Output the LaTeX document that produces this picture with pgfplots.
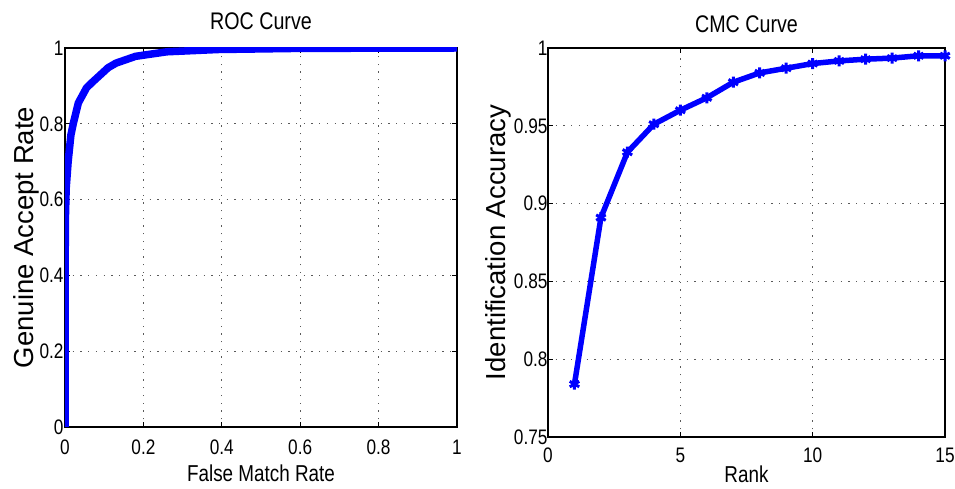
\documentclass[border=0pt]{standalone}
\usepackage{fontspec}
\setmainfont[FakeStretch=0.82]{Liberation Sans}
\newfontfamily\wide{Liberation Sans}
\usepackage{pgfplots}
\pgfplotsset{compat=1.18}
\begin{document}
\begin{tikzpicture}
\path[use as bounding box] (0pt,0pt) rectangle (955pt,489pt);
\pgfplotsset{
 every axis title shift=0pt,
 mystyle/.style={
  scale only axis,
  axis line style={black, line width=1.6pt},
  grid=major,
  grid style={black!65, line width=1.3pt, dash pattern=on 1.3pt off 6.4pt},
  tick align=inside,
  major tick length=5pt,
  tick style={black, line width=0.9pt},
  ticklabel style={font=\fontsize{21}{21}\selectfont},
  xlabel style={font=\fontsize{23}{23}\selectfont},
  ylabel style={font=\wide\fontsize{27.5}{27.5}\selectfont},
  title style={font=\fontsize{24}{24}\selectfont},
  /pgf/number format/assume math mode=true,
 }
}
\begin{axis}[mystyle, at={(65pt,62pt)}, anchor=south west,
  width=392pt, height=379pt,
  xmin=0, xmax=1, ymin=0, ymax=1,
  xtick={0,0.2,0.4,0.6,0.8,1}, ytick={0,0.2,0.4,0.6,0.8,1},
  title={ROC Curve},
  title style={at={(axis description cs:0.5,1.0475)}, anchor=base},
  xlabel={False Match Rate},
  xlabel style={at={(axis description cs:0.5,-0.145)}, anchor=base},
  ylabel={Genuine Accept Rate},
  ylabel style={at={(axis description cs:-0.0816,0.5)}, anchor=base},
  xticklabel style={anchor=base, yshift=-28pt},
  yticklabel style={xshift=2pt},
]
\addplot[blue, line width=7.5pt, line join=round, line cap=round] coordinates {
 (0,0) (0.0005,0.45) (0.001,0.55) (0.003,0.63) (0.008,0.70) (0.015,0.77)
 (0.021,0.80) (0.034,0.855) (0.055,0.895) (0.07,0.91) (0.089,0.928)
 (0.11,0.948) (0.13,0.96) (0.18,0.978) (0.26,0.99) (0.39,0.996)
 (0.6,0.999) (1,1)
};
\end{axis}
\begin{axis}[mystyle, at={(548pt,52pt)}, anchor=south west,
  width=397pt, height=389pt,
  xmin=0, xmax=15, ymin=0.75, ymax=1,
  xtick={0,5,10,15}, ytick={0.75,0.8,0.85,0.9,0.95,1},
  title={CMC Curve},
  title style={at={(axis description cs:0.5,1.0386)}, anchor=base},
  xlabel={Rank},
  xlabel style={at={(axis description cs:0.5,-0.118)}, anchor=base},
  ylabel={Identification Accuracy},
  ylabel style={at={(axis description cs:-0.108,0.5)}, anchor=base},
  xticklabel style={anchor=base, yshift=-26pt},
  yticklabel style={xshift=3pt},
]
\addplot[blue, line width=5.5pt, line join=round, mark=asterisk, mark size=5.5pt,
  mark options={line width=3pt}] coordinates {
 (1,0.784) (2,0.891) (3,0.933) (4,0.951) (5,0.960) (6,0.968) (7,0.978)
 (8,0.984) (9,0.987) (10,0.990) (11,0.9917) (12,0.9928) (13,0.9935)
 (14,0.995) (15,0.995)
};
\end{axis}
\end{tikzpicture}
\end{document}
